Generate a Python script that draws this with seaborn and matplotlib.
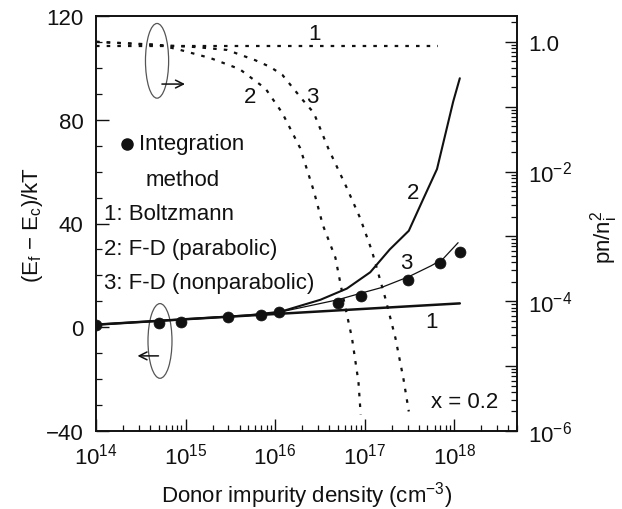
import matplotlib
matplotlib.use("Agg")
import numpy as np
import pandas as pd
import seaborn as sns
import matplotlib.pyplot as plt
from matplotlib.patches import Ellipse
from matplotlib.lines import Line2D
from matplotlib.ticker import FixedLocator, MultipleLocator, FuncFormatter, NullFormatter

# ---------------- data ----------------
# Integration method points, (Ef - Ec)/kT
int_N = [1e14, 5e14, 9e14, 3e15, 7e15, 1.1e16, 5e16, 9e16, 3e17, 7e17, 1.15e18]
int_E = [1.0, 1.8, 2.1, 3.9, 4.9, 5.7, 9.5, 12.0, 18.4, 24.7, 29.0]

# 1: Boltzmann (solid, left axis)
boltz_N = [1e14, 1e15, 1e16, 1e17, 1.15e18]
boltz_E = [1.0, 3.1, 5.1, 7.1, 9.2]

# 2: F-D parabolic (solid, left axis)
fdp_N = [1e14, 1e15, 5e15, 1.15e16, 3.2e16, 6.3e16, 1.15e17, 1.9e17, 3.1e17,
         4.5e17, 6.4e17, 9.7e17, 1.15e18]
fdp_E = [1.0, 3.1, 4.6, 6.0, 10.6, 14.9, 21.2, 30.0, 37.2, 49.5, 61.0, 87.0, 96.0]

# 3: F-D nonparabolic (thin solid, left axis)
fdn_N = [1e14, 1e15, 5e15, 1.15e16, 5e16, 9e16, 1.5e17, 3.1e17, 5.5e17, 7.4e17, 1.1e18]
fdn_E = [1.0, 3.1, 4.6, 5.9, 10.6, 13.1, 15.2, 19.5, 23.7, 26.2, 32.6]

# pn/ni^2 (dashed, right axis)
pn1_N = [1e14, 6.5e17]
pn1_V = [0.85, 0.85]
pn2_N = [1e14, 5e14, 8.7e14, 1.9e15, 4e15, 7.8e15, 1.2e16, 1.9e16, 2.7e16, 3.4e16,
         4.7e16, 5.7e16, 7.2e16, 8.5e16, 9e16]
pn2_V = [1.0, 0.9, 0.75, 0.56, 0.38, 0.19, 0.08, 0.023, 5e-3, 1.5e-3,
         4.7e-4, 1.2e-4, 2.7e-5, 5.7e-6, 1.8e-6]
pn3_N = [1e14, 1.3e15, 2.9e15, 6e15, 8.8e15, 1.2e16, 1.6e16, 2e16, 2.7e16, 3.9e16,
         6.3e16, 8.9e16, 1.2e17, 1.7e17, 2.2e17, 2.7e17, 3.1e17]
pn3_V = [1.0, 0.83, 0.75, 0.52, 0.41, 0.31, 0.19, 0.13, 0.08, 0.023,
         5.6e-3, 1.9e-3, 6e-4, 1.1e-4, 2.7e-5, 6.4e-6, 2e-6]

x_ticks = [1e14, 1e15, 1e16, 1e17, 1e18]
x_tick_labels = [r"$\mathregular{10^{14}}$", r"$\mathregular{10^{15}}$",
                 r"$\mathregular{10^{16}}$", r"$\mathregular{10^{17}}$",
                 r"$\mathregular{10^{18}}$"]
left_ticks = [-40, 0, 40, 80, 120]
right_ticks = [1e-6, 1e-5, 1e-4, 1e-3, 1e-2, 1e-1, 1.0]
right_tick_labels = [r"$\mathregular{10^{-6}}$", "", r"$\mathregular{10^{-4}}$", "",
                     r"$\mathregular{10^{-2}}$", "", "1.0"]

# ---------------- style ----------------
sns.set_theme(style="ticks")
plt.rcParams["font.family"] = ["Liberation Sans", "DejaVu Sans"]
plt.rcParams["mathtext.fontset"] = "custom"
plt.rcParams["mathtext.rm"] = "Liberation Sans"
plt.rcParams["mathtext.it"] = "Liberation Sans"
plt.rcParams["axes.unicode_minus"] = True
FS = 16

fig = plt.figure(figsize=(6.22, 5.10), dpi=100)
ax = fig.add_axes([96 / 622, 78 / 510, 421 / 622, 415 / 510])
ax2 = ax.twinx()

ink = "#111111"

# left-axis curves
sns.lineplot(x=boltz_N, y=boltz_E, ax=ax, color=ink, lw=1.8, sort=False, estimator=None)
sns.lineplot(x=fdp_N, y=fdp_E, ax=ax, color=ink, lw=1.5, sort=False, estimator=None)
sns.lineplot(x=fdn_N, y=fdn_E, ax=ax, color=ink, lw=0.9, sort=False, estimator=None)
sns.scatterplot(x=int_N, y=int_E, ax=ax, color=ink, s=62, edgecolor=ink,
                linewidth=0.5, zorder=5)

# right-axis dashed curves
dash = (0, (1.6, 3.2))
for xs, ys in [(pn1_N, pn1_V), (pn2_N, pn2_V), (pn3_N, pn3_V)]:
    sns.lineplot(x=xs, y=ys, ax=ax2, color=ink, lw=1.6, linestyle=dash,
                 sort=False, estimator=None)

# scales and limits
ax.set_xscale("log")
ax.set_xlim(1e14, 5e18)
ax.set_ylim(-40, 120)
ax2.set_yscale("log")
ax2.set_ylim(1e-6, 2.5)

ax.xaxis.set_major_locator(FixedLocator(x_ticks))
ax.xaxis.set_major_formatter(FuncFormatter(lambda v, p: x_tick_labels[x_ticks.index(v)] if v in x_ticks else ""))
minor_x = [m * 10.0 ** e for e in range(14, 19) for m in range(2, 10) if m * 10.0 ** e <= 5e18]
ax.xaxis.set_minor_locator(FixedLocator(minor_x))
ax.xaxis.set_minor_formatter(NullFormatter())

ax.yaxis.set_major_locator(FixedLocator(left_ticks))
ax.yaxis.set_minor_locator(MultipleLocator(10))
ax.set_yticklabels([str(t).replace("-", "\u2212") for t in left_ticks])

ax2.yaxis.set_major_locator(FixedLocator(right_ticks))
ax2.set_yticklabels(right_tick_labels)
minor_r = [m * 10.0 ** e for e in range(-6, 1) for m in range(2, 10) if m * 10.0 ** e <= 2.5]
ax2.yaxis.set_minor_locator(FixedLocator(minor_r))
ax2.yaxis.set_minor_formatter(NullFormatter())

for a in (ax, ax2):
    a.tick_params(which="major", direction="in", length=9, width=1.0, colors=ink,
                  labelsize=FS, labelcolor=ink)
    a.tick_params(which="minor", direction="in", length=4.5, width=0.9, colors=ink)
    for s in a.spines.values():
        s.set_linewidth(1.2)
        s.set_color(ink)
ax.tick_params(axis="x", which="major", pad=8)
ax.tick_params(axis="y", which="major", pad=9)
ax2.tick_params(axis="y", which="major", pad=8)
ax2.set_xlabel("")

# axis labels
ax.set_xlabel(r"Donor impurity density (cm$\mathregular{^{-3}}$)", fontsize=FS, color=ink)
ax.xaxis.set_label_coords(0.5, -0.115)
ax.set_ylabel(r"(E$\mathregular{_f}$ $\mathregular{-}$ E$\mathregular{_c}$)/kT", fontsize=FS, color=ink)
ax.yaxis.set_label_coords(-0.122, 0.5)
ax2.set_ylabel(r"pn/n$\mathregular{_i^2}$", fontsize=FS, color=ink)
ax2.yaxis.set_label_coords(1.170, 0.47)

# curve labels
tk = dict(transform=ax.transAxes, fontsize=FS, color=ink, ha="center", va="center")
ax.text(0.520, 0.957, "1", **tk)
ax.text(0.366, 0.807, "2", **tk)
ax.text(0.513, 0.807, "3", **tk)
ax.text(0.752, 0.575, "2", **tk)
ax.text(0.736, 0.407, "3", **tk)
ax.text(0.798, 0.263, "1", **tk)
ax.text(0.955, 0.072, "x = 0.2", transform=ax.transAxes, fontsize=FS, color=ink,
        ha="right", va="center")

# legend-like text block
ax.add_line(Line2D([0.074], [0.692], transform=ax.transAxes, marker="o",
                   markersize=8, color=ink, linestyle="none"))
lk = dict(transform=ax.transAxes, fontsize=FS, color=ink, ha="left", va="center")
ax.text(0.102, 0.692, "Integration", **lk)
ax.text(0.118, 0.607, "method", **lk)
ax.text(0.019, 0.523, "1: Boltzmann", **lk)
ax.text(0.019, 0.439, "2: F-D (parabolic)", **lk)
ax.text(0.019, 0.357, "3: F-D (nonparabolic)", **lk)

# ellipses and arrows
ax.add_patch(Ellipse((0.145, 0.892), 0.055, 0.18, transform=ax.transAxes,
                     fill=False, edgecolor="#555555", lw=0.9))
ax.add_patch(Ellipse((0.152, 0.217), 0.057, 0.18, transform=ax.transAxes,
                     fill=False, edgecolor="#555555", lw=0.9))
ax.annotate("", xy=(0.218, 0.836), xytext=(0.150, 0.836), xycoords="axes fraction",
            arrowprops=dict(arrowstyle="->", color=ink, lw=1.1, mutation_scale=14))
ax.annotate("", xy=(0.092, 0.181), xytext=(0.155, 0.181), xycoords="axes fraction",
            arrowprops=dict(arrowstyle="->", color=ink, lw=1.1, mutation_scale=14))

fig.savefig("out.png", dpi=100)
